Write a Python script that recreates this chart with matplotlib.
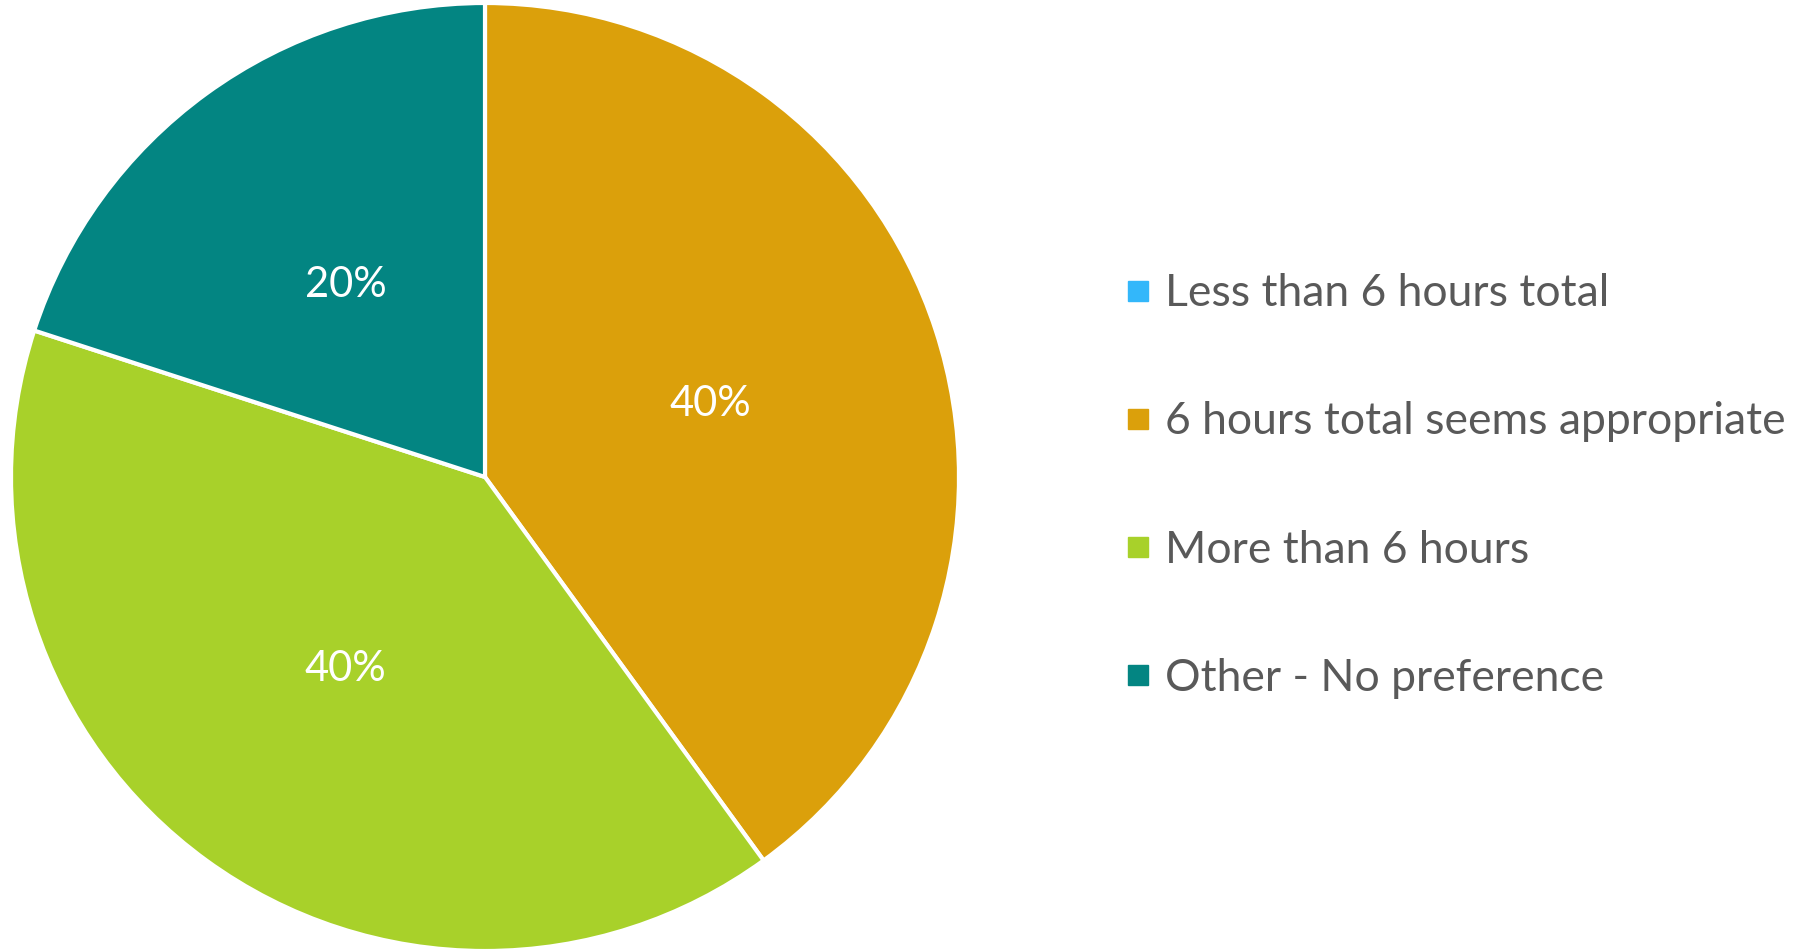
import matplotlib.pyplot as plt
from matplotlib.lines import Line2D

plt.rcParams['font.family'] = ['Lato', 'DejaVu Sans']

labels = ['Less than 6 hours total', '6 hours total seems appropriate',
          'More than 6 hours', 'Other - No preference']
values = [0, 40, 40, 20]
colors = ['#33B7FA', '#DBA00B', '#A8D12A', '#038582']

fig = plt.figure(figsize=(18.07, 9.52), dpi=100)
W, H = 1807, 952
cx, cy, r = 485, 477, 474
ax = fig.add_axes([(cx - r) / W, (H - cy - r) / H, 2 * r / W, 2 * r / H])


def pct(p):
    return '' if p < 0.5 else '%d%%' % round(p)


wedges, texts, autotexts = ax.pie(values, colors=colors, startangle=90, counterclock=False,
                                  autopct=pct, pctdistance=0.5, radius=1,
                                  wedgeprops=dict(edgecolor='white', linewidth=3, clip_on=False),
                                  textprops=dict(color='white', fontsize=30))
ax.set_xlim(-1, 1)
ax.set_ylim(-1, 1)
ax.set_aspect('equal')
ax.axis('off')

handles = [Line2D([], [], marker='s', linestyle='none', markersize=15,
                  markerfacecolor=c, markeredgecolor=c) for c in colors]
fig.legend(handles, labels, loc='center left', bbox_to_anchor=(1094 / W, (H - 486) / H),
           frameon=False, fontsize=32, labelcolor='#595959', labelspacing=1.96,
           handletextpad=0.1, handlelength=1.0, borderpad=0)

fig.savefig('out.png', dpi=100)
